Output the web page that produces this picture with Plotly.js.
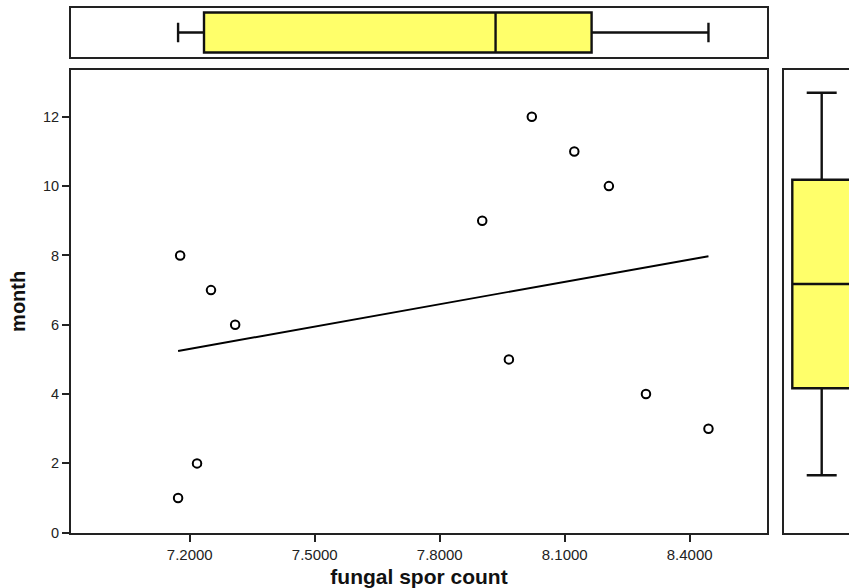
<!DOCTYPE html>
<html>
<head>
<meta charset="utf-8">
<script src="https://cdn.plot.ly/plotly-3.0.1.min.js"></script>
<style>
html,body{margin:0;padding:0;background:#fff;overflow:hidden;}
#chart{width:849px;height:588px;}
</style>
</head>
<body>
<div id="chart"></div>
<script>
// Data
const months = [1, 2, 3, 4, 5, 6, 7, 8, 9, 10, 11, 12];
const sporeCount = [7.172, 7.2175, 8.445, 8.295, 7.966, 7.309, 7.251, 7.177, 7.902, 8.206, 8.123, 8.021];
const xTickValues = [7.2, 7.5, 7.8, 8.1, 8.4];
const yTickValues = [0, 2, 4, 6, 8, 10, 12];

// least-squares fit line
const n = months.length;
const mx = sporeCount.reduce((a, b) => a + b, 0) / n;
const my = months.reduce((a, b) => a + b, 0) / n;
let sxy = 0, sxx = 0;
for (let i = 0; i < n; i++) {
  sxy += (sporeCount[i] - mx) * (months[i] - my);
  sxx += (sporeCount[i] - mx) ** 2;
}
const slope = sxy / sxx;
const intercept = my - slope * mx;
const xMin = Math.min(...sporeCount), xMax = Math.max(...sporeCount);
const fitX = [xMin, xMax];
const fitY = fitX.map(v => intercept + slope * v);

const W = 849, H = 588;
const px = v => v / W;
const py = v => (H - v) / H;

const boxFill = '#ffff6a';
const lineCol = '#111';
const font = 'Liberation Sans, Arial, sans-serif';

const traces = [
  {
    type: 'scatter', mode: 'markers', x: sporeCount, y: months,
    xaxis: 'x', yaxis: 'y',
    marker: {symbol: 'circle-open', size: 8.5, color: '#000', line: {width: 2, color: '#000'}},
    hoverinfo: 'x+y'
  },
  {
    type: 'scatter', mode: 'lines', x: fitX, y: fitY,
    xaxis: 'x', yaxis: 'y',
    line: {color: '#000', width: 1.9}
  },
  {
    type: 'box', x: sporeCount, y0: 0, orientation: 'h',
    xaxis: 'x2', yaxis: 'y2',
    boxpoints: false, quartilemethod: 'exclusive',
    fillcolor: boxFill, line: {color: lineCol, width: 2.4},
    width: 0.826, whiskerwidth: 0.49
  },
  {
    type: 'box', y: months, x0: 0, orientation: 'v',
    xaxis: 'x3', yaxis: 'y3',
    boxpoints: false, quartilemethod: 'exclusive',
    fillcolor: boxFill, line: {color: lineCol, width: 2.4},
    width: 0.588, whiskerwidth: 0.51
  }
];

const axLine = {showline: true, linecolor: '#222', linewidth: 2, showgrid: false, zeroline: false};

const layout = {
  width: W, height: H,
  margin: {l: 0, r: 0, t: 0, b: 0},
  paper_bgcolor: '#fff', plot_bgcolor: '#fff',
  showlegend: false,
  font: {family: font, color: '#222'},
  xaxis: Object.assign({}, axLine, {
    domain: [px(71), px(767)], range: [6.915, 8.5855], mirror: true,
    tickvals: xTickValues, tickformat: '.4f', ticks: 'outside', ticklen: 7, tickwidth: 2, tickcolor: '#222',
    tickfont: {size: 15, family: font, color: '#222'},
    title: {text: '<b>fungal spor count</b>', font: {size: 21, family: font, color: '#111'}, standoff: 8},
    automargin: false, anchor: 'y'
  }),
  yaxis: Object.assign({}, axLine, {
    domain: [py(532.7), py(70)], range: [0, 13.35], mirror: true,
    tickvals: yTickValues, ticks: 'outside', ticklen: 7, tickwidth: 2, tickcolor: '#222',
    tickfont: {size: 14.5, family: font, color: '#222'},
    title: {text: '<b>month</b>', font: {size: 20, family: font, color: '#111'}, standoff: 12},
    automargin: false, anchor: 'x'
  }),
  xaxis2: Object.assign({}, axLine, {
    domain: [px(71), px(767)], range: [6.915, 8.5855], mirror: true,
    showticklabels: false, ticks: '', anchor: 'y2'
  }),
  yaxis2: Object.assign({}, axLine, {
    domain: [py(56.7), py(8.3)], range: [-0.5, 0.5], mirror: true,
    showticklabels: false, ticks: '', anchor: 'x2', type: 'linear'
  }),
  xaxis3: Object.assign({}, axLine, {
    domain: [px(784.3), 1], range: [-0.374, 0.273], mirror: true,
    showticklabels: false, ticks: '', anchor: 'y3', type: 'linear'
  }),
  yaxis3: Object.assign({}, axLine, {
    domain: [py(532.7), py(70)], range: [-0.653, 12.655], mirror: false,
    showticklabels: false, ticks: '', anchor: 'x3'
  })
};

Plotly.newPlot('chart', traces, layout, {displayModeBar: false, staticPlot: true});
</script>
</body>
</html>
